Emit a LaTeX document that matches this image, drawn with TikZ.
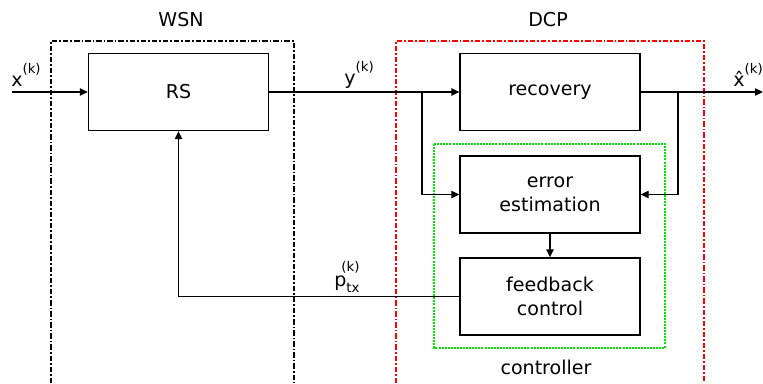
\documentclass[tikz,border=0pt]{standalone}
\usepackage{fontspec}
\setmainfont{DejaVu Sans}
\usetikzlibrary{arrows.meta}
\definecolor{dcpred}{RGB}{255,0,0}
\definecolor{ctrlgreen}{RGB}{0,230,0}
\begin{document}
\begin{tikzpicture}[x=0.75pt,y=-0.75pt,
  font=\fontsize{14.3}{18}\selectfont,
  blk/.style={draw, line width=1pt, minimum width=135pt, minimum height=57.75pt, inner sep=0pt, align=center},
  conn/.style={line width=0.9pt},
  arr/.style={conn, -{Triangle[length=6pt,width=5.5pt]}},
  frame/.style={line width=1.9pt, dash pattern=on 4pt off 1.5pt on 1.3pt off 1.5pt},
  sup/.style={inner sep=0pt}]
\useasboundingbox (0,0) rectangle (763,383);
% frames
\draw[frame] (51,383) -- (51,41) -- (294,41) -- (294,383);
\draw[frame, dcpred] (396,383) -- (396,41) -- (704,41) -- (704,383);
\draw[ctrlgreen, line width=1.2pt, dash pattern=on 1.5pt off 0.8pt] (434,144) rectangle (665,348);
% labels of frames
\node (wsn) at (181,20) {WSN};
\node (dcp) at (548,20) {DCP};
\node (ctrl) at (546,367) {controller};
% blocks
\node[blk] (rs) at (178.5,92) {RS};
\node[blk] (rec) at (550,92) {recovery};
\node[blk] (err) at (550,194.5) {error\\estimation};
\node[blk] (fb) at (550,296.5) {feedback\\control};
% coordinates
\coordinate (in) at (12,92);
\coordinate (out) at (763,92);
\coordinate (b1) at (422,92);
\coordinate (b2) at (678,92);
% connectors
\draw[arr] (in) -- (rs.west);
\draw[arr] (rs.east) -- (rec.west);
\draw[arr] (b1) |- (err.west);
\draw[arr] (rec.east) -- (out);
\draw[arr] (b2) |- (err.east);
\draw[arr] (err.south) -- (fb.north);
\draw[arr] (fb.west) -| (rs.south);
% signal labels
\newcommand{\supk}{\raisebox{1.3ex}{\fontsize{10}{10}\selectfont (k)}}
\node[sup] (lx) at (26,75) {x\supk};
\node[sup] (ly) at (359,75) {y\supk};
\node[sup] (lxh) at (748,75) {\^{x}\supk};
\node[sup] (lp) at (347,277) {p\raisebox{-0.6ex}{\fontsize{10}{10}\selectfont tx}\llap{\raisebox{1.4ex}{\fontsize{10}{10}\selectfont (k)}}};
\end{tikzpicture}
\end{document}
